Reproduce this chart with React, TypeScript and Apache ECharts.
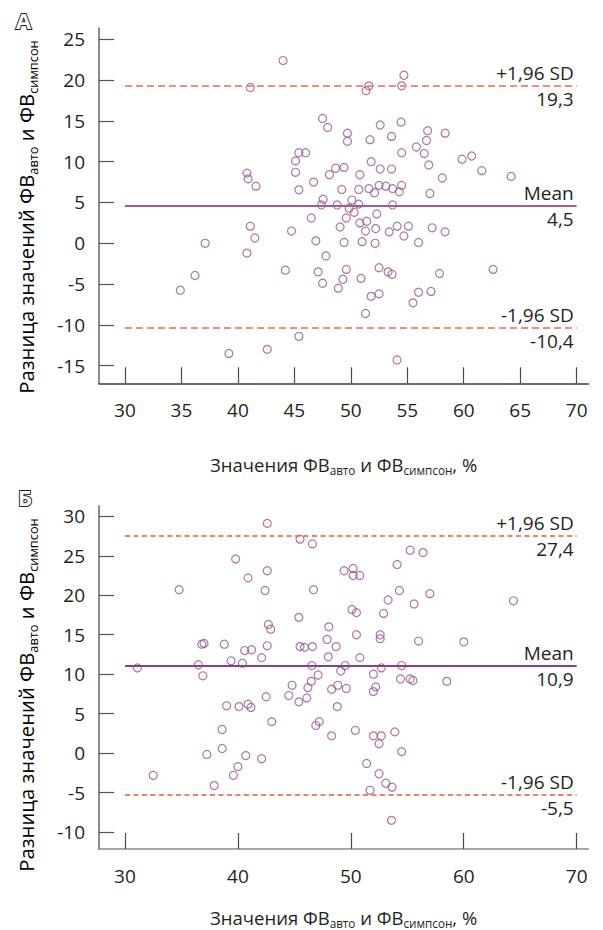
import React, { useEffect, useRef } from 'react';
import * as echarts from 'echarts';

// ---------- Data ----------
const xTickValuesA = [30, 35, 40, 45, 50, 55, 60, 65, 70];
const xTickValuesB = [30, 40, 50, 60, 70];
const yTickValuesA = [-15, -10, -5, 0, 5, 10, 15, 20, 25];
const yTickValuesB = [-10, -5, 0, 5, 10, 15, 20, 25, 30];

// Panel А: mean of the two methods (x) and difference (y)
const meanA = [
  44.0, 41.1, 40.8, 40.9, 41.6, 45.1, 45.1, 45.4, 46.0, 45.4,
  41.1, 41.5, 37.1, 40.8, 44.75, 44.2, 36.2, 34.9, 39.2, 42.6,
  45.4, 54.7, 51.6, 51.35, 54.5, 47.5, 47.95, 54.45, 52.6, 49.7,
  49.7, 51.7, 53.6, 56.8, 56.7, 58.35, 55.8, 56.5, 54.5, 51.8,
  56.9, 59.85, 60.7, 61.6, 64.2, 48.65, 49.4, 48.1, 50.8, 52.6,
  53.6, 58.1, 46.7, 49.2, 50.7, 51.6, 52.1, 52.5, 53.1, 53.7,
  54.5, 54.3, 57.0, 47.55, 50.1, 47.4, 48.8, 50.7, 53.7, 49.85,
  50.3, 52.3, 46.5, 49.6, 50.8, 51.4, 49.05, 52.2, 51.3, 53.4,
  54.1, 55.1, 57.2, 58.35, 54.7, 46.9, 49.4, 51.0, 52.15, 56.0,
  47.8, 47.1, 49.6, 52.5, 53.3, 53.65, 57.85, 62.6, 47.5, 49.3,
  50.9, 48.9, 51.8, 52.5, 56.0, 57.1, 55.5, 51.3, 54.1,
];
const diffA = [
  22.4, 19.1, 8.6, 7.9, 7.0, 10.1, 8.7, 11.1, 11.1, 6.55,
  2.1, 0.65, 0.0, -1.2, 1.5, -3.3, -3.95, -5.75, -13.5, -13.0,
  -11.4, 20.6, 19.3, 18.7, 19.3, 15.3, 14.2, 14.85, 14.5, 13.5,
  12.5, 12.7, 13.1, 13.8, 12.6, 13.5, 11.8, 11.0, 11.1, 10.0,
  9.6, 10.3, 10.7, 8.9, 8.2, 9.2, 9.3, 8.4, 8.4, 9.1,
  9.1, 8.0, 7.5, 6.6, 6.6, 6.7, 6.2, 7.1, 7.0, 6.7,
  7.1, 6.3, 6.1, 5.4, 5.3, 4.7, 4.7, 4.8, 4.7, 4.3,
  3.8, 3.6, 3.1, 3.1, 2.5, 2.7, 2.0, 1.8, 1.5, 1.4,
  2.1, 2.1, 1.9, 1.4, 0.9, 0.3, 0.1, 0.2, 0.0, 0.1,
  -1.55, -3.5, -3.2, -3.0, -3.5, -3.8, -3.7, -3.2, -4.9, -4.4,
  -4.3, -5.5, -6.5, -6.2, -6.0, -5.9, -7.3, -8.6, -14.3,
];

// Panel Б
const meanB = [
  42.6, 39.8, 40.9, 42.6, 34.8, 42.4, 45.4, 42.7, 42.9, 36.8,
  37.0, 38.8, 40.6, 41.2, 42.6, 42.1, 31.1, 36.5, 36.9, 39.4,
  40.4, 44.8, 44.5, 42.5, 45.4, 39.0, 40.1, 40.9, 41.15, 43.0,
  38.6, 38.6, 37.25, 40.7, 42.1, 40.0, 39.6, 32.5, 37.9, 45.5,
  46.6, 55.25, 56.4, 54.1, 49.4, 50.2, 50.2, 50.8, 46.7, 54.3,
  57.0, 64.4, 53.3, 55.6, 50.1, 50.5, 52.9, 48.05, 47.9, 50.5,
  52.6, 52.6, 56.0, 60.0, 45.5, 45.9, 46.6, 48.7, 48.0, 50.8,
  46.55, 49.5, 54.5, 52.7, 49.1, 52.0, 47.1, 46.5, 54.4, 55.25,
  55.5, 58.5, 46.2, 48.85, 48.3, 49.6, 52.2, 52.0, 46.1, 48.8,
  46.9, 47.2, 48.3, 50.4, 52.0, 52.7, 52.5, 53.9, 54.5, 51.4,
  52.5, 53.1, 53.65, 51.7, 53.6,
];
const diffB = [
  29.1, 24.6, 22.2, 23.1, 20.7, 20.6, 17.2, 16.3, 15.7, 13.8,
  13.9, 13.8, 13.0, 13.1, 13.6, 12.1, 10.8, 11.2, 9.8, 11.7,
  11.4, 8.6, 7.3, 7.15, 6.5, 6.0, 5.9, 6.2, 5.8, 4.0,
  3.0, 0.6, -0.16, -0.3, -0.7, -1.7, -2.8, -2.8, -4.1, 27.1,
  26.5, 25.7, 25.4, 23.9, 23.1, 23.4, 22.5, 22.5, 20.7, 20.6,
  20.2, 19.3, 19.4, 18.9, 18.2, 17.8, 17.7, 16.0, 14.4, 15.0,
  15.0, 14.5, 14.2, 14.1, 13.5, 13.4, 13.5, 13.5, 12.2, 12.1,
  11.1, 11.1, 11.1, 10.8, 10.4, 10.0, 9.9, 9.1, 9.4, 9.4,
  9.2, 9.1, 8.3, 8.6, 8.1, 8.2, 8.4, 7.8, 7.0, 5.9,
  3.5, 4.0, 2.2, 2.9, 2.2, 2.2, 1.2, 2.7, 0.2, -1.3,
  -2.6, -3.8, -4.3, -4.7, -8.5,
];

// Limits of agreement (line level as drawn, with its printed label)
const limitNames = ['+1,96 SD', 'Mean', '-1,96 SD'];
const limitLevelsA = [19.3, 4.55, -10.35];
const limitLabelsA = ['19,3', '4,5', '-10,4'];
const limitLevelsB = [27.5, 11.1, -5.3];
const limitLabelsB = ['27,4', '10,9', '-5,5'];
const lineSpan = [30, 70];

// ---------- Styling ----------
const F = '"Open Sans", sans-serif';
const TXT = '#231f20';
const POINT = '#96558f';

const richX = {
  n: { fontSize: 18.5, fontFamily: F, color: TXT, lineHeight: 24 },
  s: { fontSize: 11.7, fontFamily: F, color: TXT, lineHeight: 12, padding: [12, 0, 0, 0] },
};
const richY = {
  n: { fontSize: 20.3, fontFamily: F, color: TXT, lineHeight: 24 },
  s: { fontSize: 12.8, fontFamily: F, color: TXT, lineHeight: 12, padding: [13, 0, 0, 0] },
};
const yName = '{n|Разница значений ФВ}{s|авто}{n| и ФВ}{s|симпсон}';
const xName = '{n|Значения ФВ}{s|авто}{n| и ФВ}{s|симпсон}{n|, %}';

function buildMarkLines(levels: number[], labels: string[], meanColor: string, meanWidth: number, dashColor: string, dashWidth: number, dash: number[]) {
  const data: any[] = [];
  levels.forEach((lvl, i) => {
    const isMean = i === 1;
    const ls = isMean
      ? { color: meanColor, width: meanWidth, type: 'solid' }
      : { color: dashColor, width: dashWidth, type: dash };
    const lab = { color: TXT, fontSize: 19, fontFamily: F, lineHeight: 20, distance: 3 };
    data.push([
      { coord: [lineSpan[0], lvl], lineStyle: ls, label: { ...lab, show: true, position: 'insideEndTop', formatter: () => limitNames[i] } },
      { coord: [lineSpan[1], lvl] },
    ]);
    data.push([
      { coord: [lineSpan[0], lvl], lineStyle: { color: 'rgba(0,0,0,0)', width: 0 }, label: { ...lab, show: true, position: 'insideEndBottom', formatter: () => labels[i] } },
      { coord: [lineSpan[1], lvl] },
    ]);
  });
  return { silent: true, symbol: ['none', 'none'], animation: false, data };
}

function xAxisCfg(gridIndex: number, ticks: number[], lineColor: string, nameGap: number) {
  return {
    type: 'value', gridIndex, min: 27.7, max: 71.03,
    axisLine: { show: true, onZero: false, lineStyle: { color: lineColor, width: 1.6 } },
    axisTick: { show: true, inside: true, length: 16, customValues: ticks, lineStyle: { color: '#4a4a4a', width: 1.2 } },
    axisLabel: { show: true, margin: 17, customValues: ticks, color: TXT, fontSize: 19, fontFamily: F },
    splitLine: { show: false },
    name: xName, nameLocation: 'middle', nameGap, nameTextStyle: { rich: richX },
  };
}
function yAxisCfg(gridIndex: number, ticks: number[], min: number, max: number) {
  return {
    type: 'value', gridIndex, min, max,
    axisLine: { show: true, onZero: false, lineStyle: { color: '#8c8c8c', width: 2 } },
    axisTick: { show: true, inside: true, length: 15, customValues: ticks, lineStyle: { color: '#555', width: 1.2 } },
    axisLabel: { show: true, margin: 14, customValues: ticks, color: TXT, fontSize: 19, fontFamily: F },
    splitLine: { show: false },
  };
}

function yTitle(cx: number, cy: number) {
  return {
    type: 'text', x: cx, y: cy, rotation: Math.PI / 2,
    style: { text: yName, rich: richY, align: 'center', verticalAlign: 'middle' },
  };
}
function panelLetter(letter: string, left: number, top: number) {
  return {
    type: 'text', left, top,
    style: { text: letter, fontSize: 22, fontWeight: 'bold', fontFamily: F, fill: '#fff', stroke: TXT, lineWidth: 2 },
  };
}

export default function App() {
  const ref = useRef<HTMLDivElement>(null);
  useEffect(() => {
    if (!ref.current) return;
    const chart = echarts.init(ref.current, null, { renderer: 'svg' });
    const ptsA = meanA.map((m, i) => [m, diffA[i]]);
    const ptsB = meanB.map((m, i) => [m, diffB[i]]);
    chart.setOption({
      animation: false,
      backgroundColor: '#fff',
      grid: [
        { left: 99, top: 28.3, width: 489.3, height: 355 },
        { left: 99, top: 506, width: 489.3, height: 354.7 },
      ],
      xAxis: [xAxisCfg(0, xTickValuesA, '#3c3c3c', 69), xAxisCfg(1, xTickValuesB, '#8a8a8a', 56)],
      yAxis: [yAxisCfg(0, yTickValuesA, -17.16, 26.35), yAxisCfg(1, yTickValuesB, -12.13, 31.3)],
      graphic: [
        panelLetter('А', 15, 8),
        panelLetter('Б', 17, 485),
        yTitle(26, 217),
        yTitle(26, 695),
      ],
      series: [
        {
          type: 'scatter', xAxisIndex: 0, yAxisIndex: 0, data: ptsA,
          symbol: 'circle', symbolSize: 8,
          itemStyle: { color: 'rgba(255,255,255,0)', borderColor: POINT, borderWidth: 1.2 },
          markLine: buildMarkLines(limitLevelsA, limitLabelsA, '#9d5d97', 2, '#ef8f77', 1.8, [7, 4]),
        },
        {
          type: 'scatter', xAxisIndex: 1, yAxisIndex: 1, data: ptsB,
          symbol: 'circle', symbolSize: 8,
          itemStyle: { color: 'rgba(255,255,255,0)', borderColor: POINT, borderWidth: 1.2 },
          markLine: buildMarkLines(limitLevelsB, limitLabelsB, '#8a3f84', 1.8, '#e8583a', 1.5, [5, 3.5]),
        },
      ],
    });
    return () => chart.dispose();
  }, []);
  return <div ref={ref} style={{ position: 'absolute', left: 0, top: 0, width: 603, height: 930 }} />;
}
